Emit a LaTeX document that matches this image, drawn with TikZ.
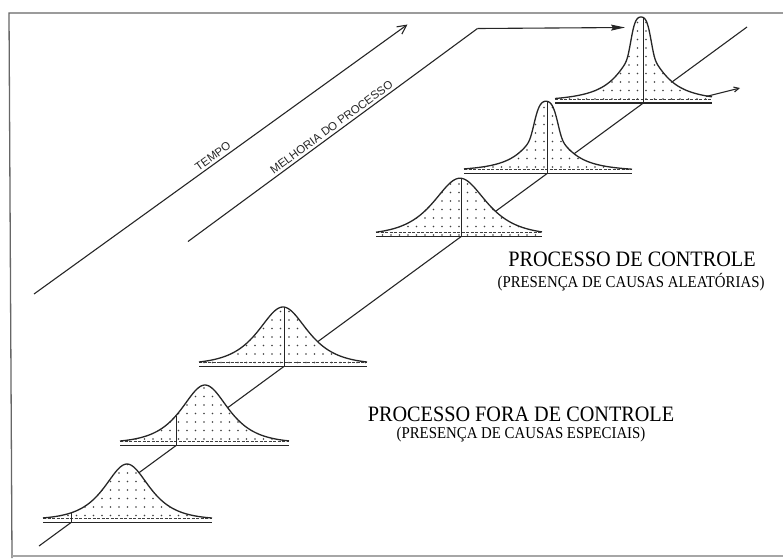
\documentclass[tikz,border=0pt]{standalone}
\usepackage{fontspec}
\setmainfont{Liberation Serif}
\newfontfamily\handfont{Liberation Sans}
\usepackage{graphicx}
\usetikzlibrary{arrows.meta,patterns.meta}

\tikzset{
  ln/.style={line width=1.1pt, black!85},
  meanline/.style={line width=0.9pt, black!85},
  curveline/.style={line width=1.3pt, black!85},
  dotfill/.style={preaction={fill=white}, pattern={Dots[distance=8.5pt,radius=0.95pt]}, pattern color=black!75},
  baseup/.style={line width=1.2pt, dash pattern=on 3pt off 1.5pt, black!75},
  baselow/.style={line width=1.1pt, black!85},
  frameline/.style={line width=1.3pt, black!60},
  hand/.style={font=\handfont\fontsize{11.5}{12}\selectfont, inner sep=2.5pt},
  titletext/.style={font=\fontsize{22}{26}\selectfont, anchor=base, inner sep=0pt},
  subtext/.style={font=\fontsize{16.5}{20}\selectfont, anchor=base, inner sep=0pt},
}

% #1 xl, #2 xr, #3 xpeak, #4 y lower base, #5 height, #6 scale, #7 narrow width (0 = plain sech), #8 x of mean line, #9 name
\newcommand\bellshape[9]{%
  \pgfmathsetmacro\bYu{#4-4.5}%
  \pgfmathsetmacro\bE{bellG(max(#3-#1,#2-#3),#6,#7)}%
  \pgfmathsetmacro\bYv{\bYu-#5*(bellG(abs(#8-#3),#6,#7)-\bE)/(1-\bE)}%
  \path[dotfill] plot[domain=#1:#2,samples=180] (\x,{\bYu-#5*(bellG(abs(\x-#3),#6,#7)-\bE)/(1-\bE)}) -- (#2,#4) -- (#1,#4) -- cycle;
  \draw[baseup] (#1,\bYu+0.6) -- (#2,\bYu+0.6);
  \draw[baselow] (#1,#4) -- (#2,#4);
  \coordinate (#9) at (#8,#4);
  \coordinate (#9top) at (#8,\bYv);
  \draw[meanline] (#9) -- (#9top);
  \draw[curveline] plot[domain=#1:#2,samples=180] (\x,{\bYu-#5*(bellG(abs(\x-#3),#6,#7)-\bE)/(1-\bE)});
}

\begin{document}
\begin{tikzpicture}[x=1pt,y=-1pt,
  declare function={
    bellG(\d,\a,\w)=(\w<0.5)*2/(exp(\d/\a)+exp(-\d/\a))
      +(\w>0.5)*(0.35*exp(-min((\d/max(\w,10))^4,30))+0.65/(1+(\d/\a)^2));
  }]
\useasboundingbox (0,0) rectangle (783,558);

% frame
\draw[frameline] (783,13) -- (9,13) -- (12,558);
\draw[frameline, black!35] (12,556) -- (783,556);

% TEMPO arrow
\coordinate (t0) at (34,294);
\coordinate (t1) at (407.5,24.5);
\draw[ln, -{Straight Barb[length=9pt,width=9pt,line width=1.1pt]}] (t0) -- (t1)
  node[hand, pos=0.49, sloped, above] (tempo) {TEMPO};

% MELHORIA DO PROCESSO
\coordinate (m0) at (188,241.5);
\coordinate (m1) at (477.5,28.5);
\coordinate (m2) at (625,27.5);
\draw[ln] (m0) -- (m1) node[hand, pos=0.51, sloped, above] (melhoria) {MELHORIA DO PROCESSO};
\draw[ln, -{Stealth[length=14pt,width=6pt,inset=2pt]}] (m1) -- (m2);

% main diagonal
\coordinate (s0) at (39,546);
\coordinate (s1) at (747,27);
\draw[ln] (s0) -- (s1);

% curves
\bellshape{43}{212}{127}{522.5}{54}{20}{0}{71}{c1}
\bellshape{120}{289}{205}{445.5}{56}{21}{0}{176}{c2}
\bellshape{199}{367}{283}{366.5}{55}{22}{0}{284}{c3}
\bellshape{376}{542}{460}{236.7}{54}{23.5}{0}{461}{c4}
\bellshape{464}{632}{546}{173.7}{68}{23}{13}{547}{c5}
\bellshape{555}{712}{641}{103}{81.5}{24}{11}{643}{c6}

% little arrow at tail of top curve
\coordinate (a0) at (706,96.5);
\coordinate (a1) at (740,88);
\draw[ln, -{Straight Barb[length=5pt,width=5pt]}] (a0) -- (a1);

% texts
\node[titletext] (ctrl) at (632,266.5) {\scalebox{0.92}[1]{PROCESSO DE CONTROLE}};
\node[subtext] (ctrlsub) at (631,287) {\scalebox{0.9}[1]{(PRESENÇA DE CAUSAS ALEATÓRIAS)}};
\node[titletext] (fora) at (521,421.5) {\scalebox{0.92}[1]{PROCESSO FORA DE CONTROLE}};
\node[subtext] (forasub) at (521,438) {\scalebox{0.9}[1]{(PRESENÇA DE CAUSAS ESPECIAIS)}};
\end{tikzpicture}
\end{document}
